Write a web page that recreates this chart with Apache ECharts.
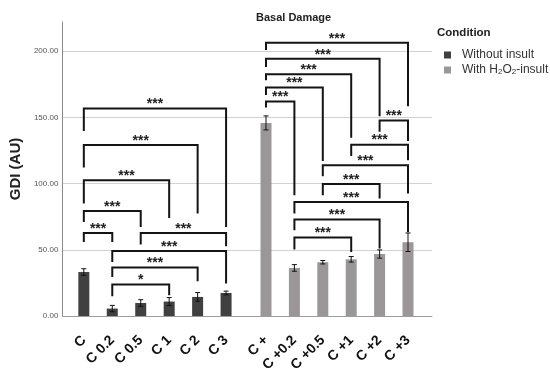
<!DOCTYPE html>
<html><head><meta charset="utf-8">
<script src="https://cdn.jsdelivr.net/npm/echarts@6/dist/echarts.min.js"></script>
<style>html,body{margin:0;padding:0;background:#fff}#c{width:550px;height:387px}</style>
</head><body><div id="c"></div>
<script>
// ---- data ----
const categoriesWithout = ['C', 'C 0.2', 'C 0.5', 'C 1', 'C 2', 'C 3'];
const categoriesWith = ['C +', 'C +0.2', 'C +0.5', 'C +1', 'C +2', 'C +3'];
const valuesWithout = [33.2, 5.6, 9.8, 10.9, 14.4, 17.4];
const errorsWithout = [2.5, 2.4, 2.5, 3.0, 3.3, 1.4];
const valuesWith = [145.8, 36.3, 40.6, 42.8, 46.8, 55.7];
const errorsWith = [5.3, 2.5, 1.3, 2.1, 3.1, 7.0];
const yMax = 222;
const yInterval = 50;
// brackets: [fromIndex, toIndex, bracketLevel, leftLegEnd, rightLegEnd]
const bracketsWithout = [
  [0, 5, 156.7, 139.6, 67.2],
  [0, 4, 129.2, 112.1, 77.4],
  [0, 3, 102.5, 84.9, 74.0],
  [0, 2, 79.3, 71.0, 67.2],
  [0, 1, 62.7, 55.9, 55.9],
  [2, 5, 62.7, 53.9, 52.7],
  [1, 5, 49.1, 40.8, 24.5],
  [1, 4, 36.6, 29.5, 26.2],
  [1, 3, 23.7, 14.9, 15.6]
];
const bracketLabelsWithout = ['***', '***', '***', '***', '***', '***', '***', '***', '*'];
const bracketsWith = [
  [0, 5, 206.3, 200.8, 158.4],
  [0, 4, 194.2, 188.1, 150.9],
  [0, 3, 182.6, 178.1, 134.6],
  [0, 2, 172.6, 166.8, 117.1],
  [0, 1, 162.0, 157.5, 91.2],
  [4, 5, 147.6, 139.2, 132.2],
  [3, 5, 129.4, 120.9, 117.6],
  [2, 5, 113.9, 105.6, 92.5],
  [2, 4, 99.7, 91.2, 88.7],
  [1, 5, 86.1, 77.4, 63.5],
  [1, 4, 72.8, 64.8, 50.9],
  [1, 3, 59.2, 50.2, 48.4]
];
const bracketLabelsWith = ['***', '***', '***', '***', '***', '***', '***', '***', '***', '***', '***', '***'];

// ---- rendering ----
const FONT = "'Liberation Sans', Arial, sans-serif";

function errorRenderer(params, api) {
  const i = api.value(0), v = api.value(1), e = api.value(2);
  const hi = api.coord([i, v + e]);
  const lo = api.coord([i, v - e]);
  const cw = 2.5;
  const st = { stroke: '#111', lineWidth: 1 };
  return {
    type: 'group',
    children: [
      { type: 'line', shape: { x1: hi[0], y1: hi[1], x2: lo[0], y2: lo[1] }, style: st },
      { type: 'line', shape: { x1: hi[0] - cw, y1: hi[1], x2: hi[0] + cw, y2: hi[1] }, style: st },
      { type: 'line', shape: { x1: lo[0] - cw, y1: lo[1], x2: lo[0] + cw, y2: lo[1] }, style: st }
    ]
  };
}

function bracketRenderer(rows, labels) {
  return function (params, api) {
    const r = rows[params.dataIndex];
    const pL = api.coord([r[0], r[2]]);
    const pR = api.coord([r[1], r[2]]);
    const lEnd = api.coord([r[0], r[3]]);
    const rEnd = api.coord([r[1], r[4]]);
    return {
      type: 'group',
      children: [
        {
          type: 'polyline',
          shape: { points: [[pL[0], lEnd[1]], [pL[0], pL[1]], [pR[0], pR[1]], [pR[0], rEnd[1]]] },
          style: { stroke: '#141414', lineWidth: 2, fill: 'none', lineJoin: 'miter' }
        },
        {
          type: 'text',
          x: (pL[0] + pR[0]) / 2,
          y: pL[1] - 4,
          style: {
            text: labels[params.dataIndex], align: 'center', verticalAlign: 'middle',
            fontSize: 14, fontWeight: 'bold', fontFamily: FONT, fill: '#222'
          }
        }
      ]
    };
  };
}

const gridTop = 22, gridBottom = 71;
const chart = echarts.init(document.getElementById('c'), null, { renderer: 'canvas' });
const hiddenY = (g) => ({ gridIndex: g, type: 'value', min: 0, max: yMax, show: false });
const catX = (g, data) => ({
  gridIndex: g, type: 'category', data: data,
  axisLine: { show: false }, axisTick: { show: false },
  axisLabel: { rotate: 45, margin: 22, fontSize: 14, fontWeight: 'bold', color: '#111', fontFamily: FONT, interval: 0 }
});

chart.setOption({
  animation: false,
  backgroundColor: '#fff',
  title: {
    text: 'Basal Damage', left: 251, top: 7,
    textStyle: { fontSize: 11, fontWeight: 'bold', color: '#222', fontFamily: FONT }
  },
  legend: {
    orient: 'vertical', left: 439, top: 44, itemWidth: 7, itemHeight: 7, itemGap: 3,
    icon: 'rect', selectedMode: false,
    data: ['Without insult', 'With H2O2-insult'],
    formatter: (name) => name === 'With H2O2-insult' ? 'With H{s|2}O{s|2}-insult' : name,
    textStyle: {
      fontSize: 12, color: '#333', fontFamily: FONT, padding: [0, 0, 0, 6],
      rich: { s: { fontSize: 8, color: '#333', fontFamily: FONT, verticalAlign: 'bottom', padding: [4, 0, 0, 0] } }
    }
  },
  graphic: [{
    type: 'text', left: 437, top: 27,
    style: { text: 'Condition', fontSize: 11.5, fontWeight: 'bold', fill: '#222', fontFamily: FONT }
  }],
  grid: [
    { left: 60, right: 118, top: gridTop, bottom: gridBottom },
    { left: 69.6, width: 170.7, top: gridTop, bottom: gridBottom },
    { left: 251.8, width: 170.4, top: gridTop, bottom: gridBottom }
  ],
  xAxis: [
    { gridIndex: 0, type: 'category', data: [''], axisLine: { lineStyle: { color: '#9c9c9c' } }, axisTick: { show: false }, axisLabel: { show: false } },
    catX(1, categoriesWithout),
    catX(2, categoriesWith)
  ],
  yAxis: [
    {
      gridIndex: 0, type: 'value', min: 0, max: yMax, interval: yInterval,
      name: 'GDI (AU)', nameLocation: 'middle', nameGap: 38, nameRotate: 90,
      nameTextStyle: { fontSize: 15, fontWeight: 'bold', color: '#222', fontFamily: FONT },
      axisLine: { show: true, lineStyle: { color: '#8a8a8a' } }, axisTick: { show: false },
      axisLabel: { formatter: (v) => v.toFixed(2), fontSize: 8, color: '#555', margin: 4, showMaxLabel: false, fontFamily: FONT },
      splitLine: { show: true, showMaxLine: false, lineStyle: { color: '#d2d2d2' } }
    },
    hiddenY(1),
    hiddenY(2)
  ],
  series: [
    { name: 'Without insult', type: 'bar', xAxisIndex: 1, yAxisIndex: 1, data: valuesWithout, barWidth: 11, itemStyle: { color: '#404040' }, z: 2 },
    { name: 'With H2O2-insult', type: 'bar', xAxisIndex: 2, yAxisIndex: 2, data: valuesWith, barWidth: 11, itemStyle: { color: '#9b9798' }, z: 2 },
    { type: 'custom', xAxisIndex: 1, yAxisIndex: 1, renderItem: errorRenderer, clip: false, z: 4,
      encode: { x: 0, y: 1 }, data: valuesWithout.map((v, k) => [k, v, errorsWithout[k]]) },
    { type: 'custom', xAxisIndex: 2, yAxisIndex: 2, renderItem: errorRenderer, clip: false, z: 4,
      encode: { x: 0, y: 1 }, data: valuesWith.map((v, k) => [k, v, errorsWith[k]]) },
    { type: 'custom', xAxisIndex: 1, yAxisIndex: 1, renderItem: bracketRenderer(bracketsWithout, bracketLabelsWithout), clip: false, z: 5,
      encode: { x: 0, y: 1 }, data: bracketsWithout.map(r => [r[0], r[2]]) },
    { type: 'custom', xAxisIndex: 2, yAxisIndex: 2, renderItem: bracketRenderer(bracketsWith, bracketLabelsWith), clip: false, z: 5,
      encode: { x: 0, y: 1 }, data: bracketsWith.map(r => [r[0], r[2]]) }
  ]
});
</script>
</body></html>
